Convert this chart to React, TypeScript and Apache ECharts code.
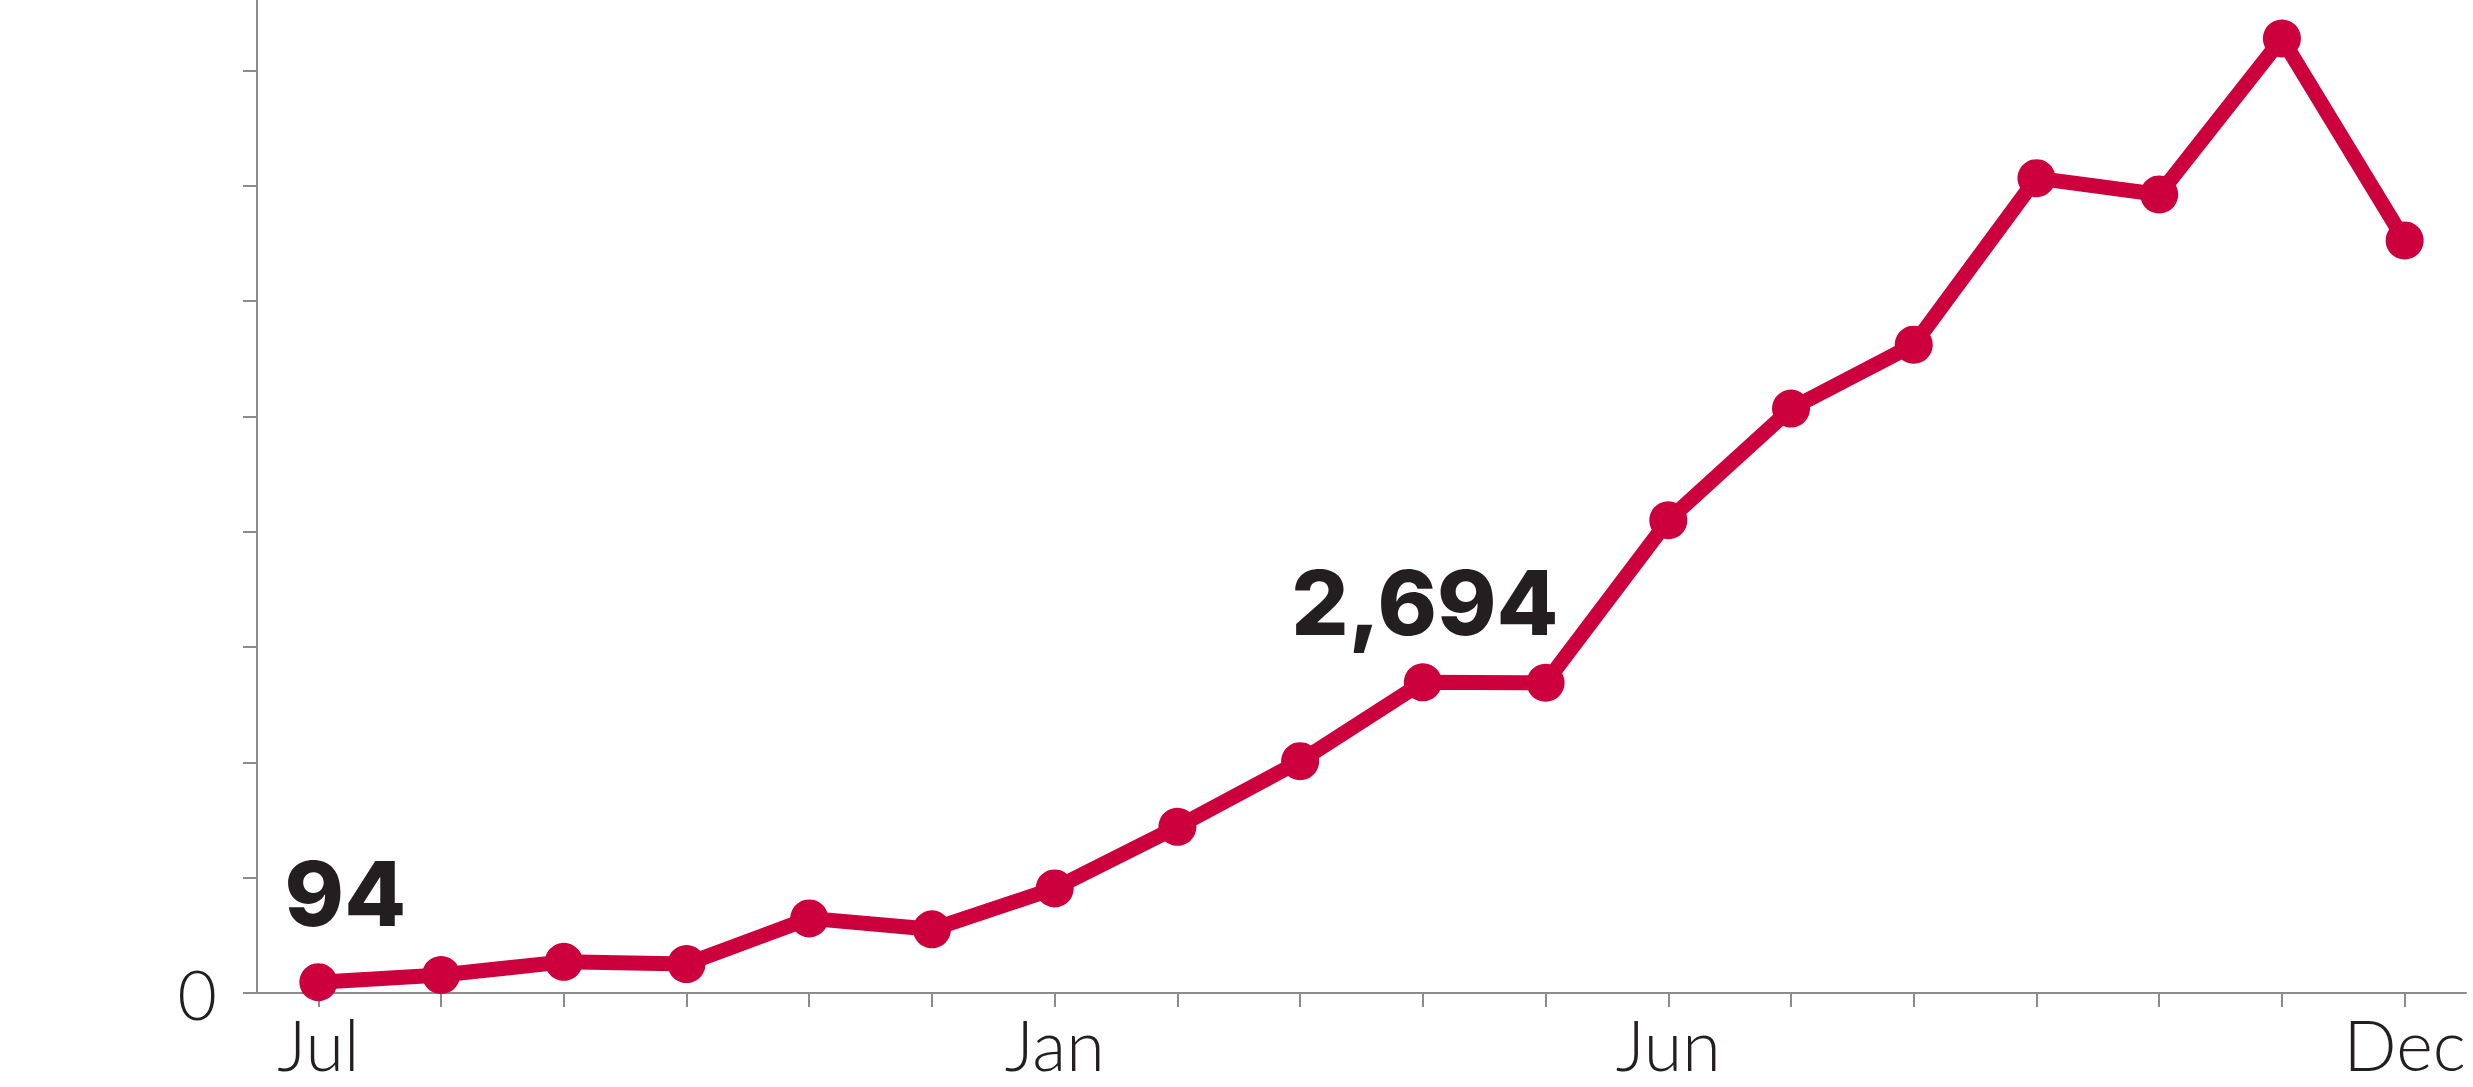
import React, { useEffect, useRef } from "react";
import * as echarts from "echarts";

const months: string[] = [
  "Jul", "Aug", "Sep", "Oct", "Nov", "Dec",
  "Jan", "Feb", "Mar", "Apr", "May", "Jun",
  "Jul", "Aug", "Sep", "Oct", "Nov", "Dec",
];
const values: number[] = [
  94, 156, 270, 251, 647, 552, 907, 1441, 2010,
  2694, 2690, 4099, 5067, 5621, 7065, 6924, 8276, 6525,
];
const shownMonthLabels: number[] = [0, 6, 11, 17];
const annotatedPoints: number[] = [0, 9];
const yTicks: number[] = [0, 1000, 2000, 3000, 4000, 5000, 6000, 7000, 8000];
const yLabels: number[] = [0];
const yMax = 8610;

const RED = "#cc003d";
const INK = "#231f20";
const AXIS = "#8c8c8c";

export default function App() {
  const ref = useRef<HTMLDivElement>(null);

  useEffect(() => {
    if (!ref.current) return;
    const chart = echarts.init(ref.current, undefined, { renderer: "svg" });

    const labelOffsets: Record<number, number[]> = { 0: [27, -25], 9: [2, -16] };

    const seriesData = values.map((v, i) => {
      if (annotatedPoints.includes(i)) {
        return {
          value: v,
          label: {
            show: true,
            position: "top",
            distance: 0,
            offset: labelOffsets[i] || [0, 0],
            formatter: (p: any) => Number(p.value).toLocaleString("en-US"),
            fontFamily: "Inter",
            fontWeight: 800,
            fontSize: 90,
            lineHeight: 90,
            color: INK,
          },
        };
      }
      return v;
    });

    chart.setOption({
      animation: false,
      backgroundColor: "#ffffff",
      grid: {
        left: 257,
        right: 7,
        bottom: 94,
        top: 0,
        containLabel: false,
      },
      xAxis: {
        type: "category",
        data: months,
        boundaryGap: true,
        axisLine: { show: true, lineStyle: { color: AXIS, width: 2 } },
        axisTick: {
          show: true,
          alignWithLabel: true,
          interval: 0,
          length: 14,
          lineStyle: { color: AXIS, width: 2 },
        },
        axisLabel: {
          interval: (i: number) => shownMonthLabels.includes(i),
          margin: 23,
          fontFamily: "Lato",
          fontWeight: 300,
          fontSize: 70,
          lineHeight: 56,
          color: INK,
        },
        splitLine: { show: false },
      },
      yAxis: {
        type: "value",
        min: 0,
        max: yMax,
        axisLine: { show: true, lineStyle: { color: AXIS, width: 2 } },
        axisTick: {
          show: true,
          length: 14,
          customValues: yTicks,
          lineStyle: { color: AXIS, width: 2 },
        },
        axisLabel: {
          margin: 40,
          customValues: yLabels,
          formatter: (v: number) => String(v),
          fontFamily: "Lato",
          fontWeight: 300,
          fontSize: 68,
          lineHeight: 56,
          color: INK,
        },
        splitLine: { show: false },
      },
      series: [
        {
          type: "line",
          data: seriesData,
          symbol: "circle",
          symbolSize: 38,
          showAllSymbol: true,
          itemStyle: { color: RED },
          lineStyle: { color: RED, width: 15 },
          label: { show: false },
          z: 3,
        },
      ],
    });

    return () => chart.dispose();
  }, []);

  return (
    <div
      ref={ref}
      style={{ position: "fixed", left: 0, top: 0, width: 2473, height: 1087, background: "#fff" }}
    />
  );
}
